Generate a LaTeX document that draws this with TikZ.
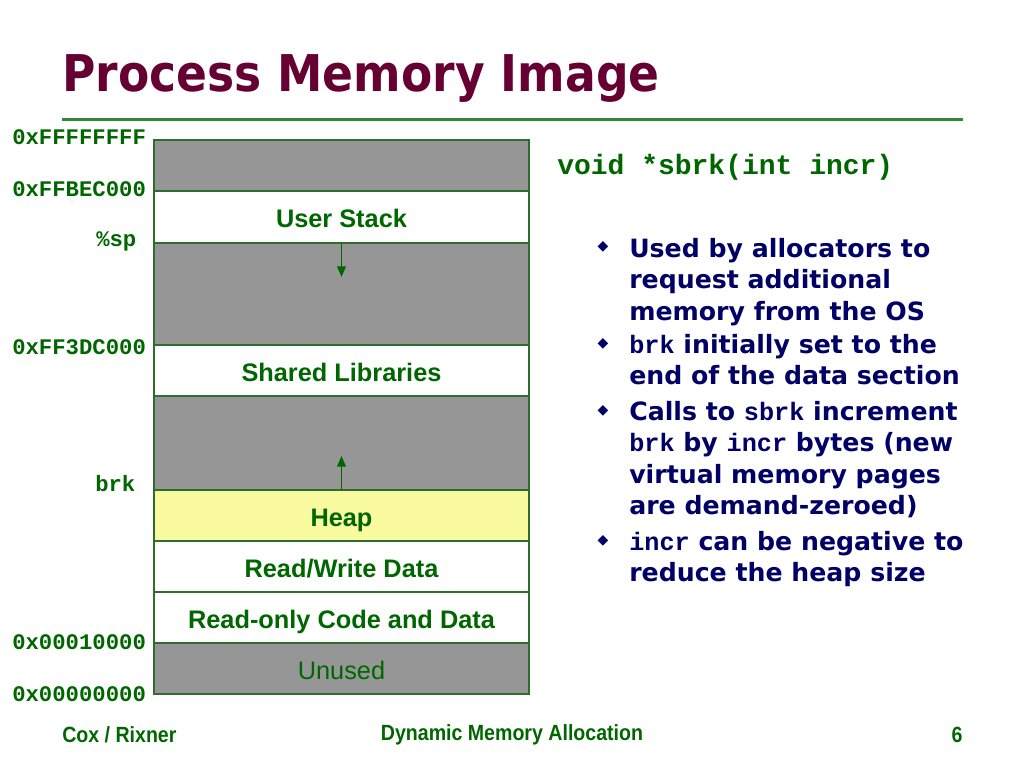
\documentclass[tikz,border=0pt]{standalone}
\usepackage{fontspec}
\setmainfont{Liberation Sans}
\setmonofont{Liberation Mono}
\newfontfamily\titlefont[FakeStretch=0.9]{DejaVu Sans}
\newfontfamily\bodyfont{DejaVu Sans}
\newfontfamily\footfont[FakeStretch=0.89]{Liberation Sans}
\usetikzlibrary{arrows.meta}
\definecolor{titlered}{RGB}{102,0,51}
\definecolor{textgreen}{RGB}{0,102,0}
\definecolor{linegreen}{RGB}{51,136,51}
\definecolor{boxgreen}{RGB}{45,110,45}
\definecolor{navy}{RGB}{0,0,102}
\definecolor{memgray}{RGB}{150,150,150}
\definecolor{heapyellow}{RGB}{250,250,160}
\tikzset{
  seg/.style={draw=boxgreen, line width=1pt, minimum width=281.25pt, inner sep=0pt, outer sep=0pt, anchor=north, text height=18pt, text depth=2pt, text=textgreen, font=\bfseries\fontsize{19}{22}\selectfont},
  addr/.style={anchor=west, inner sep=0pt, text=textgreen, font=\ttfamily\bfseries\fontsize{16.7}{18}\selectfont},
  item/.style={anchor=north west, align=left, inner sep=0pt, text=navy, font=\bodyfont\bfseries\fontsize{18.9}{23.6}\selectfont},
  dot/.style={inner sep=0pt, text=navy, font=\bodyfont\fontsize{10.5}{12}\selectfont},
  foot/.style={inner sep=0pt, text=textgreen, font=\footfont\bfseries\fontsize{16.5}{18}\selectfont},
  growarrow/.style={draw=textgreen, line width=1.4pt, -{Triangle[length=8pt,width=6.5pt]}}
}
\begin{document}
\begin{tikzpicture}[x=0.75pt,y=-0.75pt]
\useasboundingbox (0,0) rectangle (1024,768);
\node[anchor=base west, inner sep=0pt, text=titlered, font=\titlefont\bfseries\fontsize{38}{44}\selectfont] (title) at (62,91) {Process Memory Image};
\draw[linegreen, line width=2.25pt] (62,119) -- (963,119);

\node[seg, fill=memgray, minimum height=38.25pt] (topgap) at (341.5,140) {};
\node[seg, fill=white, minimum height=39pt] (stack) at (341.5,191) {User Stack};
\node[seg, fill=memgray, minimum height=76.5pt] (gapA) at (341.5,243) {};
\node[seg, fill=white, minimum height=38.25pt] (shlib) at (341.5,345) {Shared Libraries};
\node[seg, fill=memgray, minimum height=70.5pt] (gapB) at (341.5,396) {};
\node[seg, fill=heapyellow, minimum height=38.25pt] (heap) at (341.5,490) {Heap};
\node[seg, fill=white, minimum height=38.25pt] (rwdata) at (341.5,541) {Read/Write Data};
\node[seg, fill=white, minimum height=38.25pt] (rodata) at (341.5,592) {Read-only Code and Data};
\node[seg, fill=memgray, minimum height=38.25pt, font=\fontsize{19}{22}\selectfont] (unused) at (341.5,643) {Unused};

\coordinate (spend) at (341.5,277);
\coordinate (brkend) at (341.5,456);
\draw[growarrow] (stack.south) -- (spend);
\draw[growarrow] (heap.north) -- (brkend);

\node[addr] (aTop) at (12,137) {0xFFFFFFFF};
\node[addr] (aStack) at (12,189) {0xFFBEC000};
\node[addr] (aSp) at (96,241) {\%sp};
\node[addr] (aLib) at (12,347) {0xFF3DC000};
\node[addr] (aBrk) at (95,484) {brk};
\node[addr] (aCode) at (12,642) {0x00010000};
\node[addr] (aZero) at (12,694) {0x00000000};

\node[addr, font=\ttfamily\bfseries\fontsize{21}{24}\selectfont] (proto) at (557,167) {void *sbrk(int incr)};

\node[dot] (dotA) at (603,247) {◆};
\node[dot] (dotB) at (603,344) {◆};
\node[dot] (dotC) at (603,411) {◆};
\node[dot] (dotD) at (603,541) {◆};
\node[item] (itemA) at (629,238) {Used by allocators to\\request additional\\memory from the OS};
\node[item] (itemB) at (629,334) {\texttt{brk} initially set to the\\end of the data section};
\node[item] (itemC) at (629,401) {Calls to \texttt{sbrk} increment\\\texttt{brk} by \texttt{incr} bytes (new\\virtual memory pages\\are demand-zeroed)};
\node[item] (itemD) at (629,531) {\texttt{incr} can be negative to\\reduce the heap size};

\node[foot, anchor=west] (author) at (62,735) {Cox / Rixner};
\node[foot] (topic) at (512,735) {Dynamic Memory Allocation};
\node[foot] (page) at (957,735) {6};
\end{tikzpicture}
\end{document}
